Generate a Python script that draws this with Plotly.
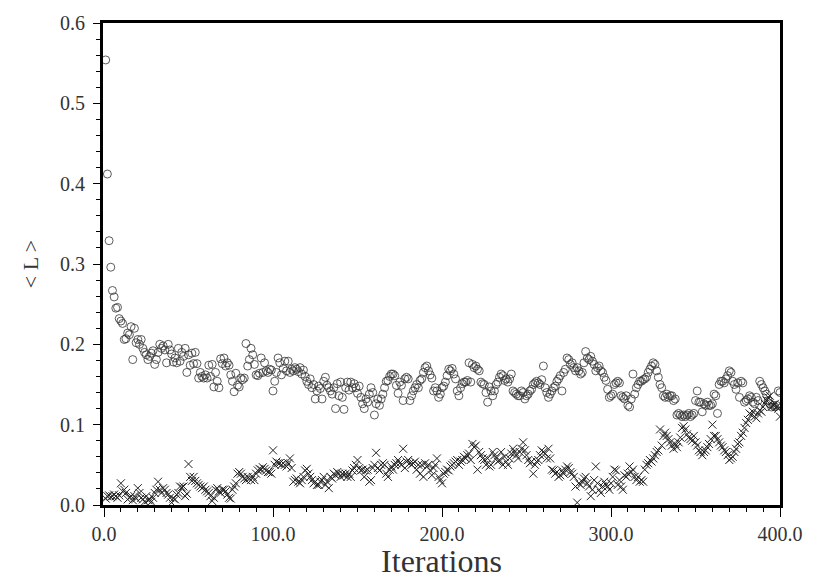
import plotly.graph_objects as go

iterations = list(range(1, 401))

mean_L_circles = [
    0.554, 0.412, 0.329, 0.296, 0.267, 0.259, 0.245, 0.246, 0.232, 0.229,
    0.226, 0.206, 0.207, 0.214, 0.212, 0.222, 0.181, 0.220, 0.202, 0.206,
    0.200, 0.206, 0.195, 0.190, 0.187, 0.181, 0.185, 0.189, 0.192, 0.175,
    0.181, 0.190, 0.200, 0.195, 0.198, 0.193, 0.177, 0.200, 0.193, 0.188,
    0.178, 0.183, 0.177, 0.195, 0.179, 0.190, 0.185, 0.195, 0.165, 0.187,
    0.174, 0.189, 0.176, 0.190, 0.176, 0.158, 0.165, 0.160, 0.158, 0.162,
    0.158, 0.174, 0.160, 0.175, 0.147, 0.165, 0.154, 0.146, 0.182, 0.176,
    0.183, 0.173, 0.177, 0.174, 0.162, 0.154, 0.141, 0.164, 0.149, 0.147,
    0.158, 0.156, 0.158, 0.201, 0.173, 0.181, 0.195, 0.187, 0.175, 0.162,
    0.161, 0.164, 0.183, 0.165, 0.177, 0.167, 0.165, 0.169, 0.168, 0.142,
    0.154, 0.165, 0.183, 0.177, 0.162, 0.170, 0.179, 0.167, 0.179, 0.165,
    0.169, 0.167, 0.171, 0.169, 0.166, 0.171, 0.163, 0.168, 0.160, 0.154,
    0.150, 0.157, 0.146, 0.150, 0.132, 0.142, 0.148, 0.145, 0.132, 0.154,
    0.159, 0.149, 0.146, 0.142, 0.138, 0.146, 0.120, 0.151, 0.136, 0.153,
    0.134, 0.119, 0.146, 0.153, 0.143, 0.153, 0.146, 0.151, 0.146, 0.139,
    0.148, 0.134, 0.126, 0.120, 0.132, 0.128, 0.138, 0.146, 0.140, 0.112,
    0.126, 0.132, 0.124, 0.132, 0.138, 0.146, 0.154, 0.155, 0.160, 0.163,
    0.163, 0.161, 0.149, 0.139, 0.153, 0.149, 0.130, 0.157, 0.159, 0.157,
    0.130, 0.136, 0.142, 0.146, 0.150, 0.146, 0.155, 0.157, 0.165, 0.171,
    0.173, 0.167, 0.162, 0.158, 0.142, 0.146, 0.142, 0.134, 0.138, 0.146,
    0.148, 0.153, 0.161, 0.169, 0.167, 0.170, 0.163, 0.157, 0.142, 0.136,
    0.146, 0.151, 0.153, 0.153, 0.155, 0.177, 0.153, 0.175, 0.171, 0.173,
    0.169, 0.167, 0.153, 0.151, 0.150, 0.140, 0.128, 0.147, 0.142, 0.136,
    0.142, 0.150, 0.153, 0.159, 0.163, 0.161, 0.155, 0.157, 0.153, 0.157,
    0.163, 0.142, 0.140, 0.138, 0.136, 0.136, 0.142, 0.140, 0.132, 0.136,
    0.138, 0.142, 0.144, 0.150, 0.152, 0.154, 0.152, 0.150, 0.156, 0.173,
    0.146, 0.140, 0.134, 0.138, 0.142, 0.146, 0.148, 0.154, 0.157, 0.161,
    0.142, 0.165, 0.169, 0.183, 0.181, 0.175, 0.177, 0.171, 0.167, 0.171,
    0.167, 0.163, 0.165, 0.177, 0.191, 0.183, 0.181, 0.185, 0.179, 0.175,
    0.167, 0.171, 0.173, 0.167, 0.165, 0.159, 0.155, 0.144, 0.134, 0.136,
    0.138, 0.150, 0.152, 0.154, 0.152, 0.136, 0.134, 0.132, 0.136, 0.124,
    0.122, 0.132, 0.163, 0.138, 0.146, 0.150, 0.154, 0.154, 0.156, 0.157,
    0.159, 0.165, 0.169, 0.173, 0.177, 0.175, 0.167, 0.159, 0.150, 0.146,
    0.136, 0.134, 0.138, 0.134, 0.136, 0.136, 0.130, 0.132, 0.112, 0.114,
    0.112, 0.110, 0.112, 0.110, 0.112, 0.114, 0.110, 0.112, 0.114, 0.130,
    0.142, 0.128, 0.128, 0.116, 0.126, 0.124, 0.128, 0.124, 0.124, 0.126,
    0.138, 0.136, 0.114, 0.150, 0.154, 0.154, 0.152, 0.157, 0.161, 0.167,
    0.165, 0.154, 0.150, 0.144, 0.152, 0.134, 0.154, 0.152, 0.128, 0.130,
    0.132, 0.136, 0.134, 0.128, 0.126, 0.134, 0.130, 0.154, 0.150, 0.146,
    0.142, 0.138, 0.130, 0.126, 0.122, 0.124, 0.122, 0.124, 0.142, 0.140,
]

mean_L_crosses = [
    0.008, 0.011, 0.012, 0.010, 0.011, 0.013, 0.011, 0.009, 0.012, 0.027,
    0.017, 0.019, 0.015, 0.007, 0.009, 0.011, 0.006, 0.011, 0.008, 0.021,
    0.015, 0.009, 0.007, 0.004, 0.011, 0.006, 0.007, 0.004, 0.009, 0.015,
    0.019, 0.029, 0.019, 0.015, 0.021, 0.019, 0.015, 0.013, 0.009, 0.003,
    0.008, 0.007, 0.013, 0.015, 0.023, 0.022, 0.023, 0.011, 0.014, 0.051,
    0.035, 0.030, 0.035, 0.030, 0.027, 0.025, 0.023, 0.021, 0.023, 0.019,
    0.017, 0.015, 0.011, 0.005, 0.009, 0.019, 0.021, 0.017, 0.015, 0.019,
    0.019, 0.017, 0.013, 0.009, 0.008, 0.019, 0.023, 0.027, 0.039, 0.041,
    0.039, 0.035, 0.033, 0.031, 0.035, 0.033, 0.031, 0.035, 0.031, 0.039,
    0.043, 0.045, 0.044, 0.047, 0.045, 0.043, 0.041, 0.041, 0.039, 0.068,
    0.050, 0.054, 0.052, 0.052, 0.050, 0.052, 0.050, 0.048, 0.052, 0.058,
    0.046, 0.029, 0.031, 0.033, 0.029, 0.027, 0.031, 0.035, 0.043, 0.045,
    0.039, 0.035, 0.031, 0.027, 0.029, 0.025, 0.025, 0.029, 0.031, 0.035,
    0.025, 0.029, 0.021, 0.035, 0.033, 0.039, 0.037, 0.041, 0.039, 0.035,
    0.039, 0.037, 0.039, 0.035, 0.039, 0.035, 0.043, 0.046, 0.050, 0.056,
    0.046, 0.043, 0.044, 0.035, 0.043, 0.044, 0.029, 0.031, 0.046, 0.050,
    0.065, 0.046, 0.043, 0.050, 0.052, 0.050, 0.039, 0.035, 0.044, 0.048,
    0.044, 0.050, 0.052, 0.056, 0.052, 0.050, 0.070, 0.046, 0.054, 0.056,
    0.052, 0.050, 0.052, 0.054, 0.044, 0.050, 0.039, 0.050, 0.035, 0.052,
    0.048, 0.050, 0.043, 0.037, 0.046, 0.050, 0.058, 0.035, 0.031, 0.027,
    0.039, 0.041, 0.044, 0.043, 0.048, 0.050, 0.052, 0.054, 0.056, 0.050,
    0.054, 0.056, 0.060, 0.058, 0.062, 0.064, 0.056, 0.076, 0.072, 0.074,
    0.044, 0.066, 0.062, 0.058, 0.056, 0.050, 0.058, 0.048, 0.050, 0.066,
    0.062, 0.058, 0.054, 0.056, 0.066, 0.050, 0.060, 0.054, 0.050, 0.058,
    0.064, 0.070, 0.066, 0.062, 0.058, 0.066, 0.070, 0.078, 0.068, 0.062,
    0.056, 0.052, 0.054, 0.039, 0.050, 0.054, 0.056, 0.062, 0.068, 0.066,
    0.064, 0.058, 0.070, 0.058, 0.044, 0.043, 0.039, 0.041, 0.035, 0.037,
    0.043, 0.039, 0.044, 0.048, 0.046, 0.041, 0.039, 0.035, 0.023, 0.003,
    0.027, 0.025, 0.029, 0.033, 0.035, 0.027, 0.023, 0.011, 0.019, 0.031,
    0.048, 0.027, 0.019, 0.015, 0.023, 0.029, 0.025, 0.023, 0.019, 0.027,
    0.035, 0.044, 0.043, 0.025, 0.031, 0.023, 0.019, 0.037, 0.035, 0.039,
    0.048, 0.041, 0.044, 0.035, 0.031, 0.035, 0.029, 0.031, 0.029, 0.044,
    0.050, 0.052, 0.056, 0.054, 0.058, 0.062, 0.066, 0.068, 0.094, 0.074,
    0.086, 0.090, 0.086, 0.082, 0.078, 0.074, 0.070, 0.076, 0.072, 0.078,
    0.084, 0.096, 0.098, 0.094, 0.088, 0.084, 0.082, 0.080, 0.086, 0.078,
    0.074, 0.068, 0.066, 0.062, 0.066, 0.068, 0.072, 0.076, 0.082, 0.100,
    0.086, 0.086, 0.082, 0.078, 0.074, 0.072, 0.068, 0.066, 0.062, 0.056,
    0.058, 0.060, 0.066, 0.070, 0.076, 0.078, 0.086, 0.090, 0.096, 0.102,
    0.106, 0.114, 0.112, 0.116, 0.110, 0.108, 0.114, 0.118, 0.116, 0.122,
    0.126, 0.130, 0.134, 0.136, 0.122, 0.124, 0.126, 0.122, 0.120, 0.110,
]

x_tick_vals = [0, 100, 200, 300, 400]
x_tick_text = ["0.0", "100.0", "200.0", "300.0", "400.0"]
y_tick_vals = [0.0, 0.1, 0.2, 0.3, 0.4, 0.5, 0.6]
y_tick_text = ["0.0", "0.1", "0.2", "0.3", "0.4", "0.5", "0.6"]

FONT = "Liberation Serif"
TXT = "#333333"

fig = go.Figure()
fig.add_trace(go.Scatter(
    x=iterations, y=mean_L_circles, mode="markers",
    marker=dict(symbol="circle-open", size=8, color="#333333",
                line=dict(width=0.8, color="#333333")),
    showlegend=False))
fig.add_trace(go.Scatter(
    x=iterations, y=mean_L_crosses, mode="markers",
    marker=dict(symbol="x-thin", size=8,
                line=dict(width=1, color="#222222")),
    showlegend=False))

fig.update_layout(
    width=815, height=579,
    margin=dict(l=103, r=29, t=15, b=60),
    paper_bgcolor="white", plot_bgcolor="white",
    font=dict(family=FONT, color=TXT),
)
fig.update_xaxes(
    range=[-0.6, 400], showgrid=False, zeroline=False,
    showline=True, linewidth=3, linecolor="black", mirror=True,
    tickmode="array", tickvals=x_tick_vals, ticktext=x_tick_text,
    ticks="outside", ticklen=9, tickwidth=1, tickcolor="black",
    tickfont=dict(family=FONT, size=20, color=TXT),
    minor=dict(dtick=10, tick0=0, ticks="outside", ticklen=4, tickcolor="black"),
    title=dict(text="Iterations", font=dict(family=FONT, size=32, color=TXT), standoff=0),
)
fig.update_yaxes(
    range=[0, 0.6], showgrid=False, zeroline=False,
    showline=True, linewidth=3, linecolor="black", mirror=True,
    tickmode="array", tickvals=y_tick_vals, ticktext=y_tick_text,
    ticks="outside", ticklen=7, tickwidth=1, tickcolor="black",
    ticklabelstandoff=4,
    tickfont=dict(family=FONT, size=20, color=TXT),
    minor=dict(dtick=0.02, tick0=0, ticks="outside", ticklen=4, tickcolor="black"),
    title=dict(text="&lt; L &gt;", font=dict(family=FONT, size=22, color=TXT), standoff=16),
)

fig.write_html("out.html")
